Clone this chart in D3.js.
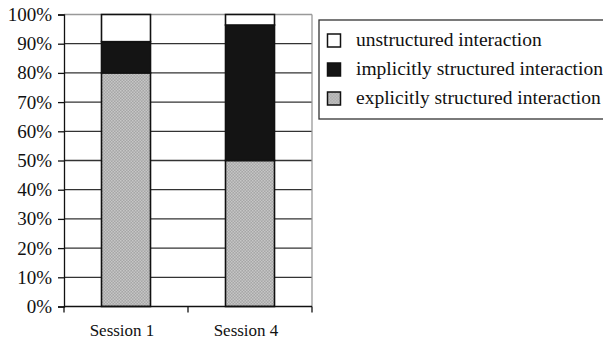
<!DOCTYPE html>
<html><head><meta charset="utf-8">
<script src="https://cdn.jsdelivr.net/npm/d3@7"></script>
<style>html,body{margin:0;padding:0;background:#fff;}svg{display:block;}</style>
</head><body>
<svg id="c" width="603" height="338"></svg>
<script>
const categories = ["Session 1", "Session 4"];
const seriesNames = ["explicitly structured interaction", "implicitly structured interaction", "unstructured interaction"];
const explicitVals = [80, 50];
const implicitVals = [10.7, 46.4];
const unstructuredVals = [9.3, 3.6];
const yTicks = [0, 10, 20, 30, 40, 50, 60, 70, 80, 90, 100];
const legendOrder = ["unstructured interaction", "implicitly structured interaction", "explicitly structured interaction"];

const svg = d3.select("#c");
const font = "'Liberation Serif', 'Times New Roman', serif";
const defs = svg.append("defs");
const pat = defs.append("pattern").attr("id", "dots").attr("patternUnits", "userSpaceOnUse")
  .attr("width", 3).attr("height", 3);
pat.append("rect").attr("width", 3).attr("height", 3).attr("fill", "#a6a6a6");
pat.append("rect").attr("x", 0).attr("y", 0).attr("width", 1.5).attr("height", 1.5).attr("fill", "#c6c6c6");
pat.append("rect").attr("x", 1.5).attr("y", 1.5).attr("width", 1.5).attr("height", 1.5).attr("fill", "#c6c6c6");

const L = 64, R = 312, T = 14.5, B = 306.5;
const x = d3.scaleBand().domain(categories).range([L, R]).paddingInner(0).paddingOuter(0);
const y = d3.scaleLinear().domain([0, 100]).range([B, T]);

const fills = { "explicitly structured interaction": "url(#dots)", "implicitly structured interaction": "#141414", "unstructured interaction": "#ffffff" };
const legendFills = fills;

// gridlines
svg.append("g").selectAll("line").data(yTicks.filter(d => d > 0)).join("line")
  .attr("x1", L).attr("x2", R).attr("y1", d => y(d)).attr("y2", d => y(d))
  .attr("stroke", d => d === 100 ? "#999" : "#333").attr("stroke-width", 1.3);
// right border
svg.append("line").attr("x1", R).attr("x2", R).attr("y1", T).attr("y2", B).attr("stroke", "#999").attr("stroke-width", 1.3);

// stacked bars
const table = categories.map((c, i) => ({ cat: c,
  "explicitly structured interaction": explicitVals[i],
  "implicitly structured interaction": implicitVals[i],
  "unstructured interaction": unstructuredVals[i] }));
const stack = d3.stack().keys(seriesNames)(table);
const bw = 49, off = (x.bandwidth() - bw) / 2;
svg.append("g").selectAll("g").data(stack).join("g")
  .attr("fill", d => fills[d.key])
  .selectAll("rect").data(d => d).join("rect")
  .attr("x", d => x(d.data.cat) + off).attr("width", bw)
  .attr("y", d => y(d[1])).attr("height", d => y(d[0]) - y(d[1]))
  .attr("stroke", "#111").attr("stroke-width", 1.6);

// y axis
const yAxis = d3.axisLeft(y).tickValues(yTicks).tickFormat(d => d + "%").tickSize(6).tickPadding(6);
const gy = svg.append("g").attr("transform", `translate(${L},0)`).call(yAxis);
gy.select(".domain").attr("stroke", "#111").attr("stroke-width", 1.3);
gy.selectAll(".tick line").attr("stroke", "#111").attr("stroke-width", 1.3);
gy.selectAll("text").attr("font-family", font).attr("font-size", 19).attr("fill", "#111");

// x axis
const gx = svg.append("g").attr("transform", `translate(0,${B})`);
gx.append("line").attr("x1", L).attr("x2", R).attr("stroke", "#111").attr("stroke-width", 1.3);
const bounds = [L, x(categories[1]), R];
gx.selectAll("line.t").data(bounds).join("line").attr("class", "t")
  .attr("x1", d => d).attr("x2", d => d).attr("y1", 0).attr("y2", 6).attr("stroke", "#111").attr("stroke-width", 1.3);
gx.selectAll("text").data(categories).join("text")
  .attr("x", d => x(d) + x.bandwidth() / 2 - 4).attr("y", 29)
  .attr("text-anchor", "middle").attr("font-family", font).attr("font-size", 17).attr("fill", "#111")
  .text(d => d);

// legend
const lg = svg.append("g");
lg.append("rect").attr("x", 319).attr("y", 20).attr("width", 300).attr("height", 99)
  .attr("fill", "none").attr("stroke", "#333").attr("stroke-width", 1.3);
const rows = lg.selectAll("g.r").data(legendOrder).join("g").attr("class", "r")
  .attr("transform", (d, i) => `translate(0,${40.5 + i * 29})`);
rows.append("rect").attr("x", 327.5).attr("y", -6.5).attr("width", 13).attr("height", 13)
  .attr("fill", d => legendFills[d]).attr("stroke", "#111").attr("stroke-width", 1.5);
rows.append("text").attr("x", 356).attr("y", 5.5).attr("font-family", font).attr("font-size", 19.5)
  .attr("fill", "#111").text(d => d);
</script>
</body></html>
